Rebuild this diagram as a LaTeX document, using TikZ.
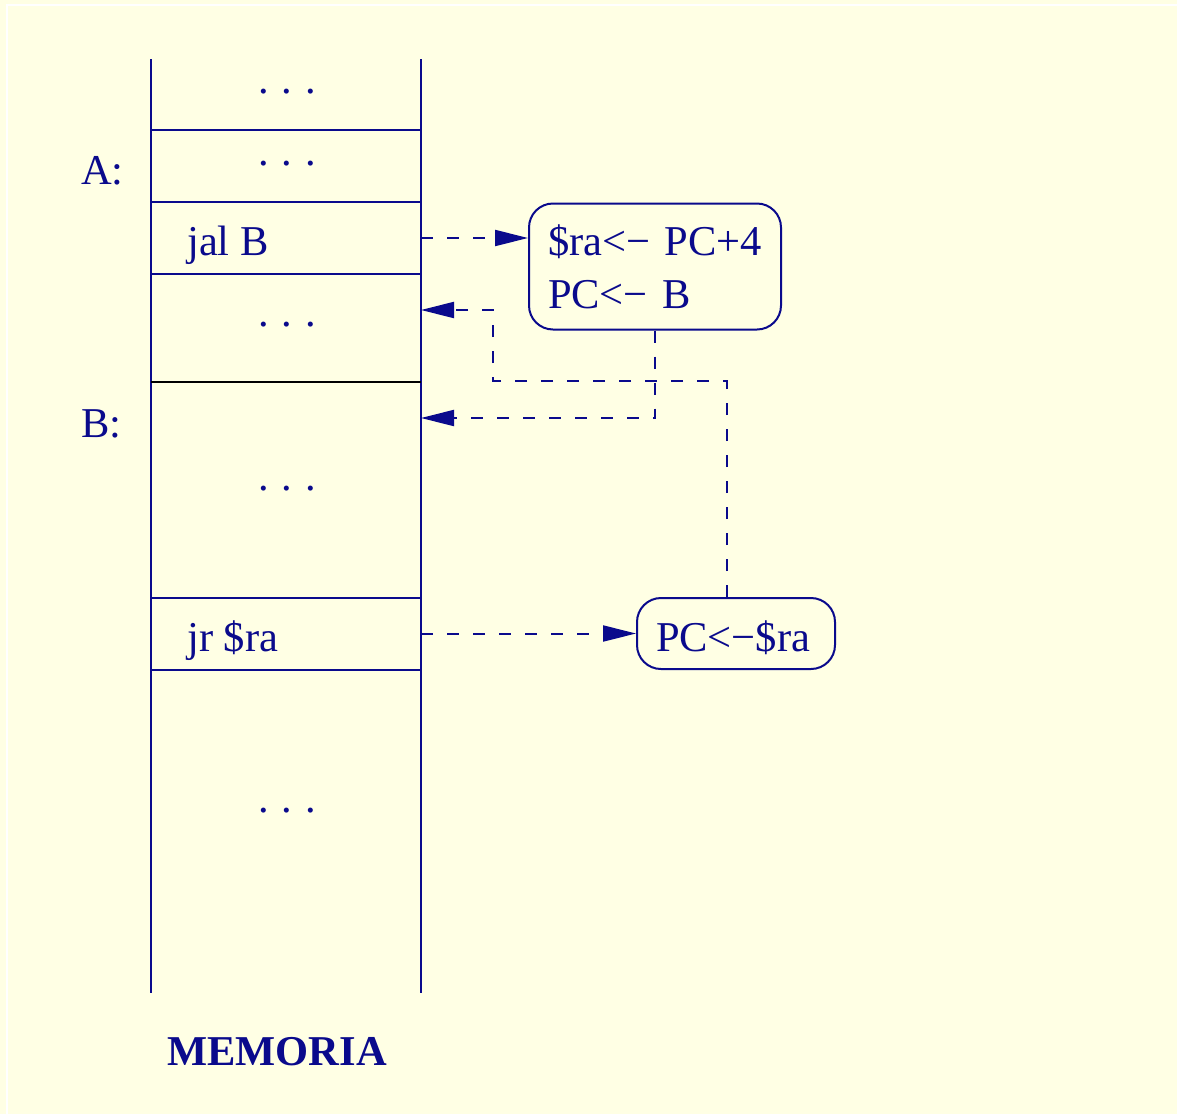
\documentclass[tikz,border=0pt]{standalone}
\usepackage{fontspec}
\setmainfont{Liberation Serif}
\usetikzlibrary{arrows.meta}
\definecolor{bgc}{RGB}{255,255,228}
\definecolor{ink}{RGB}{10,10,140}
\begin{document}
\begin{tikzpicture}[x=1pt,y=-1pt,
  txt/.style={text=ink,font=\fontsize{42.5}{53}\selectfont,inner sep=0pt},
  wall/.style={draw=ink,line width=2.2pt},
  instrbox/.style={draw=ink,line width=2pt,rounded corners=24pt,txt,align=left},
  link/.style={draw=ink,line width=2pt,dash pattern=on 12pt off 14pt,-{Triangle[length=33pt,width=16pt]}},
  dotrow/.style={txt,anchor=base}]
\fill[bgc] (0,0) rectangle (1177,1114);
\useasboundingbox (0,0) rectangle (1177,1114);
\draw[white,line width=1.5pt] (7,1114) -- (7,5) -- (1177,5);
% memory walls
\draw[wall] (151,59) -- (151,993);
\draw[wall] (421,59) -- (421,993);
\foreach \yy in {130,202,274,598,670} \draw[wall] (151,\yy) -- (421,\yy);
\draw[black,line width=2.2pt] (151,382) -- (421,382);
% dots
\foreach \yy/\nm in {93/d1,165/d2,326/d3,490/d4,812/d5}
  \node[dotrow] (\nm) at (287,\yy) {.\hspace{0.3em}.\hspace{0.3em}.};
% labels
\node[txt,anchor=base west] (lA) at (81,184) {A:};
\node[txt,anchor=base west] (lB) at (81,437) {B:};
\node[txt,anchor=base west] (jal) at (187,255) {jal B};
\node[txt,anchor=base west] (jr) at (187,651) {jr \$ra};
\node[txt,anchor=base west,font=\fontsize{42.5}{53}\selectfont\bfseries] (mem) at (167,1065) {MEMORIA};
% boxes
\node[instrbox,minimum width=252pt,minimum height=126pt,text width=214pt,inner xsep=19pt] (box1) at (655,266.5)
  {\$ra<− PC+4\\PC<− B};
\node[instrbox,minimum width=198pt,minimum height=71pt,text width=160pt,inner xsep=19pt,text height=36pt,text depth=0pt] (box2) at (736,633.5)
  {PC<−\$ra};
% coordinates on memory wall
\coordinate (jalR) at (421,238);
\coordinate (retR) at (421,310);
\coordinate (bR) at (421,418);
\coordinate (jrR) at (421,633.5);
% connectors
\draw[link] (jalR) -- (jalR -| box1.west);
\draw[link] (box1.south) |- (bR);
\draw[link] ([xshift=-9pt]box2.north) |- (493,381) |- (retR);
\draw[link] (jrR) -- (box2.west);
\end{tikzpicture}
\end{document}
